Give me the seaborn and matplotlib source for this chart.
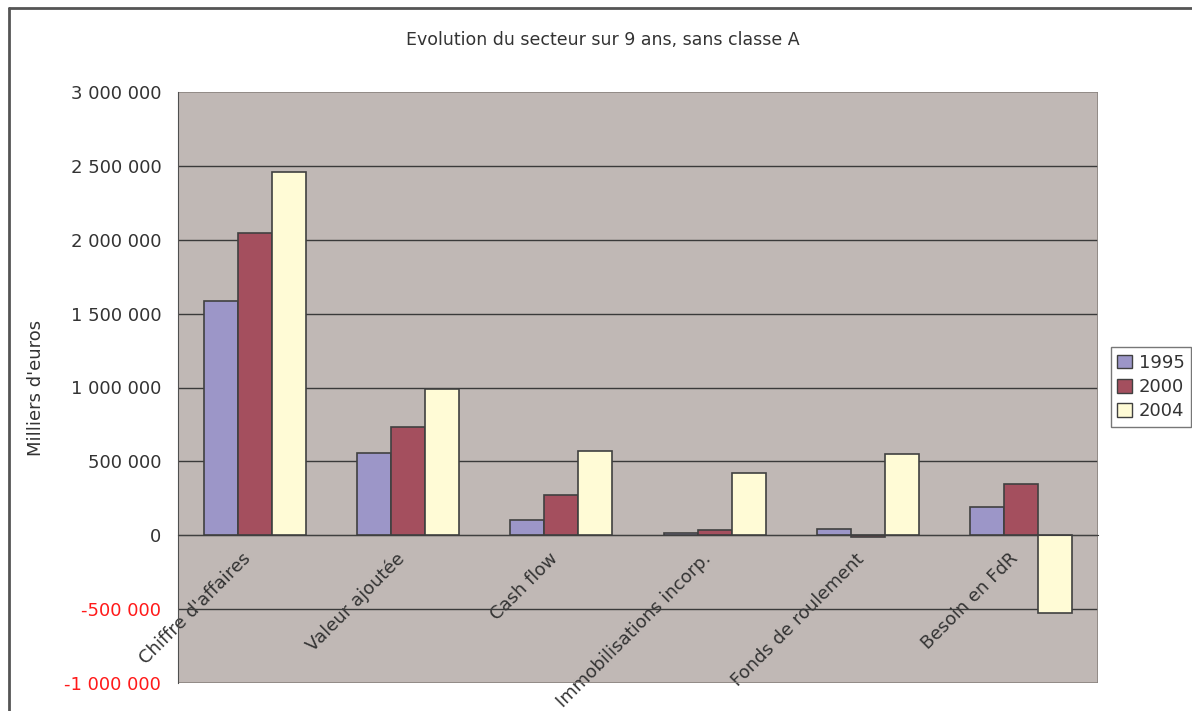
import pandas as pd
import numpy as np
import seaborn as sns
import matplotlib.pyplot as plt
from matplotlib.patches import Rectangle
from matplotlib.lines import Line2D

categories = ["Chiffre d'affaires", "Valeur ajoutée", "Cash flow",
              "Immobilisations incorp.", "Fonds de roulement", "Besoin en FdR"]
years = ["1995", "2000", "2004"]
v1995 = [1583000, 556000, 105000, 18000, 40000, 191000]
v2000 = [2045000, 734000, 270000, 34000, -14000, 345000]
v2004 = [2459000, 993000, 572000, 423000, 549000, -527000]

df = pd.DataFrame({
    "categorie": categories * 3,
    "annee": [y for y in years for _ in categories],
    "valeur": v1995 + v2000 + v2004,
})

colors = ["#9C96C8", "#A44F5E", "#FFFBD6"]
text_col = "#333333"

sns.set_style("white")
plt.rcParams["font.family"] = ["DejaVu Sans"]

fig = plt.figure(figsize=(11.92, 7.11), dpi=100)
ax = fig.add_axes([178 / 1192, 28 / 711, 920 / 1192, 591 / 711])
ax.set_facecolor("#C0B8B5")

sns.barplot(data=df, x="categorie", y="valeur", hue="annee", order=categories,
            hue_order=years, palette=colors, saturation=1, width=0.667,
            edgecolor="#404040", linewidth=1.2, ax=ax, legend=False)

ax.set_xlim(-0.5, 5.5)
ax.set_ylim(-1000000, 3000000)
yt = np.arange(-1000000, 3000001, 500000)
ax.set_yticks(yt)
ax.set_yticklabels([f"{int(v):,}".replace(",", " ") for v in yt],
                   fontsize=13, color=text_col)
for lab, v in zip(ax.get_yticklabels(), yt):
    if v < 0:
        lab.set_color("#FF1A1A")
ax.tick_params(axis="y", length=6, width=1, color="#404040", direction="out", pad=6)

# gridlines, except the top edge which is the plot frame
for v in yt[1:-1]:
    ax.axhline(v, color="#3A3A3A", linewidth=1, zorder=0.8)

# category axis sits at zero
ax.spines["bottom"].set_position(("data", 0))
ax.spines["bottom"].set_color("#404040")
ax.spines["left"].set_color("#505050")
ax.spines["top"].set_visible(False)
ax.spines["right"].set_visible(False)
ax.add_patch(Rectangle((0, 0), 1, 1, transform=ax.transAxes, fill=False,
                       edgecolor="#8A8480", linewidth=1.2, zorder=0.9))

ax.set_xticks(np.arange(-0.5, 6, 1))
ax.set_xticklabels([])
ax.tick_params(axis="x", which="major", length=6, width=1, color="#505050", direction="out")
ax.set_xticks(np.arange(len(categories)) - 0.04, minor=True)
ax.set_xticklabels(categories, minor=True, rotation=45, ha="right", va="center",
                   rotation_mode="anchor", fontsize=13, color=text_col)
ax.tick_params(axis="x", which="minor", length=0, pad=15)
ax.set_xlabel("")

ax.set_ylabel("Milliers d'euros", fontsize=13, color=text_col, labelpad=14)
fig.text(603 / 1192, 1 - 40 / 711, "Evolution du secteur sur 9 ans, sans classe A",
         ha="center", va="center", fontsize=12.5, color=text_col)

handles = [Rectangle((0, 0), 1, 1, facecolor=c, edgecolor="#404040", linewidth=1)
           for c in colors]
leg = fig.legend(handles, years, loc="center", bbox_to_anchor=(1151 / 1192, 1 - 387 / 711),
                 fontsize=13, frameon=True, fancybox=False, handlelength=0.8,
                 handleheight=0.8, handletextpad=0.4, borderpad=0.35,
                 labelspacing=0.35, borderaxespad=0)
leg.get_frame().set_edgecolor("#555555")
leg.get_frame().set_linewidth(1)
for t in leg.get_texts():
    t.set_color(text_col)

# chart border
fig.add_artist(Line2D([9 / 1192, 9 / 1192], [0, 1 - 8 / 711], transform=fig.transFigure,
                      color="#555555", linewidth=2))
fig.add_artist(Line2D([9 / 1192, 1], [1 - 8 / 711, 1 - 8 / 711], transform=fig.transFigure,
                      color="#555555", linewidth=2))

fig.savefig("out.png", dpi=100)
